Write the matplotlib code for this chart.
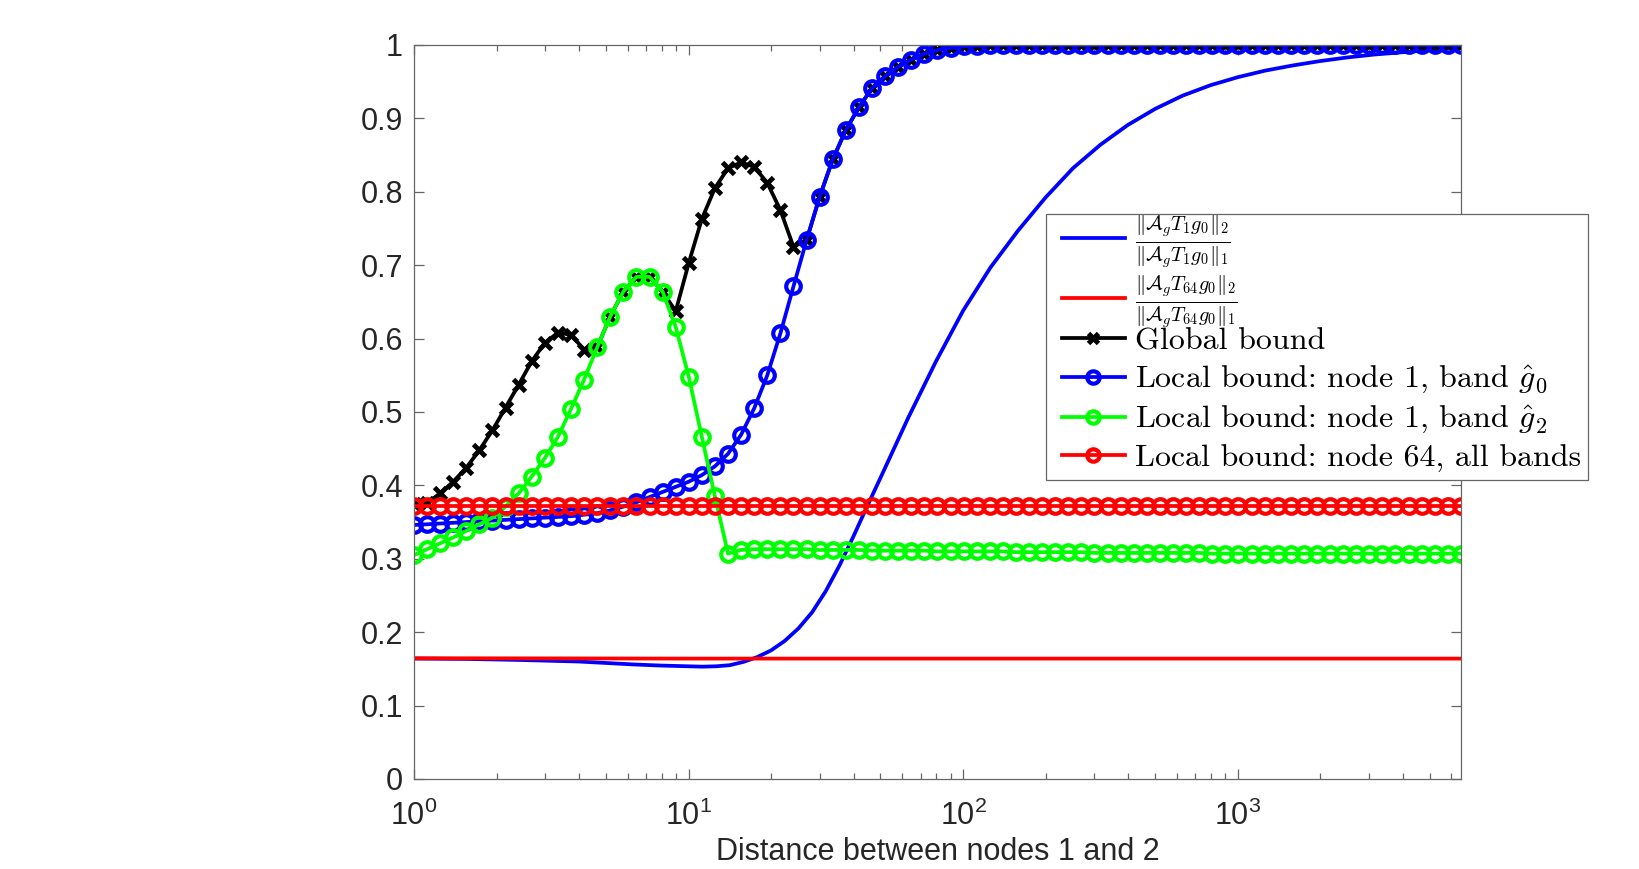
"""
bound comparison vs distance between nodes 1 and 2 (log x)
"""

import matplotlib.pyplot as plt
from matplotlib.patches import Rectangle
import numpy as np

plt.rcParams['mathtext.fontset'] = 'cm'
plt.rcParams['font.family'] = ['Liberation Sans', 'DejaVu Sans']

# distance grid used for the marker series (81 log spaced samples, 1 .. 6500)
dist = np.logspace(0, np.log10(6500), 81)

# global bound (black, x markers), first 30 samples; afterwards it rides on the blue local bound
global_head = [0.374, 0.376, 0.389, 0.405, 0.424, 0.448, 0.475, 0.506, 0.537, 0.569,
               0.594, 0.608, 0.605, 0.585, 0.588, 0.630, 0.664, 0.684, 0.684, 0.664,
               0.637, 0.703, 0.763, 0.805, 0.832, 0.840, 0.834, 0.812, 0.775, 0.725]

# local bound node 1, band g0 (blue circles)
local_g0 = [0.346, 0.347, 0.348, 0.349, 0.350, 0.351, 0.352, 0.353, 0.354, 0.355,
            0.356, 0.357, 0.358, 0.360, 0.362, 0.366, 0.371, 0.377, 0.384, 0.391,
            0.398, 0.405, 0.414, 0.426, 0.443, 0.469, 0.505, 0.550, 0.607, 0.671,
            0.734, 0.793, 0.844, 0.884, 0.915, 0.941, 0.957, 0.970, 0.980, 0.988,
            0.993, 0.996, 0.998, 0.999] + [1.0] * 37

# local bound node 1, band g2 (green circles)
local_g2 = [0.305, 0.313, 0.321, 0.329, 0.338, 0.347, 0.356, 0.371, 0.389, 0.412,
            0.437, 0.466, 0.504, 0.544, 0.588, 0.630, 0.664, 0.684, 0.684, 0.664,
            0.616, 0.548, 0.466, 0.385, 0.307,
            0.312, 0.313, 0.313, 0.313, 0.313, 0.313, 0.312, 0.312, 0.312, 0.312,
            0.311, 0.311, 0.311, 0.311, 0.311, 0.310, 0.310, 0.310, 0.310, 0.310,
            0.310, 0.309, 0.309, 0.309, 0.309, 0.309, 0.309, 0.308, 0.308, 0.308,
            0.308, 0.308, 0.308, 0.308, 0.308, 0.308, 0.307, 0.307, 0.307, 0.307,
            0.307, 0.307, 0.307, 0.307, 0.307, 0.307, 0.307, 0.307, 0.307, 0.307,
            0.307, 0.307, 0.307, 0.307, 0.307, 0.307]

# local bound node 64, all bands (red circles)
local_n64 = [0.372] * 81

global_bound = global_head + local_g0[30:]

# ||A T1 g0||_2 / ||A T1 g0||_1  (smooth blue)
ratio_t1_x = [1, 1.585, 2.512, 3.981, 5.012, 6.310, 7.943, 10, 11.22, 12.59,
              14.13, 15.85, 17.78, 19.95, 22.39, 25.12, 28.18, 31.62, 35.48, 39.81,
              44.67, 50.12, 63.10, 79.43, 100, 125.9, 158.5, 199.5, 251.2, 316.2,
              398.1, 501.2, 631.0, 794.3, 1000, 1259, 1585, 1995, 2512, 3162,
              3981, 5012, 6500]
ratio_t1 = [0.164, 0.1635, 0.162, 0.160, 0.158, 0.156, 0.1545, 0.1535, 0.153, 0.1535,
            0.155, 0.1595, 0.166, 0.175, 0.188, 0.205, 0.227, 0.256, 0.291, 0.330,
            0.371, 0.411, 0.492, 0.568, 0.638, 0.697, 0.747, 0.792, 0.832, 0.864,
            0.891, 0.913, 0.931, 0.945, 0.956, 0.965, 0.972, 0.978, 0.983, 0.987,
            0.990, 0.993, 0.996]

# ||A T64 g0||_2 / ||A T64 g0||_1  (smooth red)
ratio_t64_x = [1, 10, 100, 1000, 6500]
ratio_t64 = [0.1645, 0.164, 0.164, 0.164, 0.164]

W, H = 1640, 869
fig = plt.figure(figsize=(W / 100, H / 100), dpi=100)
ax = fig.add_axes([0.2524, 0.1036, 0.6384, 0.8447])

lw = 2.7
ms = 10.5
mew = 3
ax.plot(ratio_t1_x, ratio_t1, color=(0, 0, 1), lw=lw,
        label=r'$\frac{\|\mathcal{A}_g T_1 g_0\|_2}{\|\mathcal{A}_g T_1 g_0\|_1}$')
ax.plot(ratio_t64_x, ratio_t64, color=(1, 0, 0), lw=lw,
        label=r'$\frac{\|\mathcal{A}_g T_{64} g_0\|_2}{\|\mathcal{A}_g T_{64} g_0\|_1}$')
ax.plot(dist, global_bound, color='k', lw=lw, marker='x', ms=9, mew=3.5, label='Global bound')
ax.plot(dist, local_g0, color=(0, 0, 1), lw=lw, marker='o', ms=ms, mew=mew, mfc='none',
        label=r'Local bound: node 1, band $\hat{g}_0$')
ax.plot(dist, local_g2, color=(0, 1, 0), lw=lw, marker='o', ms=ms, mew=mew, mfc='none',
        label=r'Local bound: node 1, band $\hat{g}_2$')
ax.plot(dist, local_n64, color=(1, 0, 0), lw=lw, marker='o', ms=ms, mew=mew, mfc='none',
        label='Local bound: node 64, all bands')

ax.set_xscale('log')
ax.set_xlim(1, 6500)
ax.set_ylim(0, 1)
ax.set_yticks(np.arange(0, 1.01, 0.1))
ax.set_yticklabels(['0', '0.1', '0.2', '0.3', '0.4', '0.5', '0.6', '0.7', '0.8', '0.9', '1'])

ax.tick_params(which='both', direction='in', top=True, right=True, colors='0.4',
               labelcolor='0.15', labelsize=22)
ax.tick_params(which='major', length=7.5, width=0.9)
ax.tick_params(which='minor', length=4.3, width=0.9)
ax.tick_params(axis='x', pad=16)
ax.tick_params(axis='y', pad=8)
for s in ax.spines.values():
    s.set_color('0.4')
    s.set_linewidth(0.9)

ax.set_xlabel('Distance between nodes 1 and 2', fontsize=22, color='0.15', labelpad=3)

# legend: one frame, two stacked frameless legends (fraction rows need their own packing)
handles, labels = ax.get_legend_handles_labels()
fig.add_artist(Rectangle((1046 / W, 1 - 480 / H), 542 / W, 266 / H, transform=fig.transFigure,
                         facecolor='white', edgecolor='0.4', lw=0.9, zorder=3))
common = dict(frameon=False, borderpad=0, borderaxespad=0, markerscale=0.85, loc='center left')
leg1 = fig.legend(handles[:2], labels[:2], bbox_to_anchor=(1062 / W, 1 - 271.5 / H),
                  prop={'family': 'cmr10', 'size': 21}, labelspacing=0.12,
                  handlelength=2.15, handletextpad=0.36, **common)
leg2 = fig.legend(handles[2:], labels[2:], bbox_to_anchor=(1062 / W, 1 - 400 / H),
                  prop={'family': 'cmr10', 'size': 23}, labelspacing=0.256,
                  handlelength=1.96, handletextpad=0.33, **common)
leg1.set_zorder(5)
leg2.set_zorder(5)

fig.savefig('out.png', dpi=100)
